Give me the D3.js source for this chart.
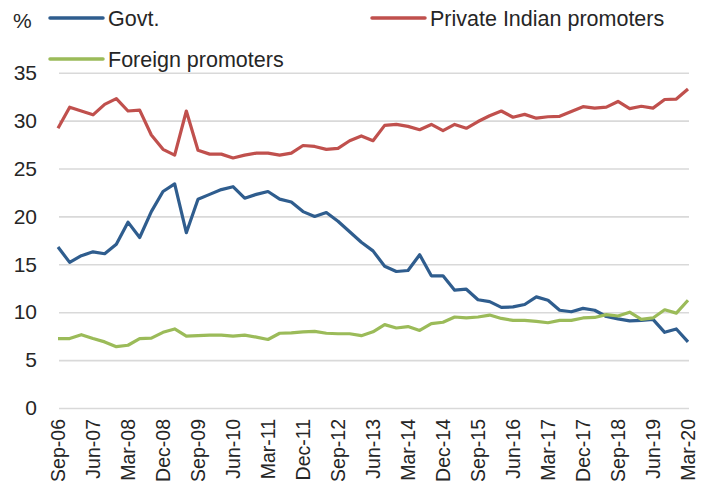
<!DOCTYPE html>
<html>
<head>
<meta charset="utf-8">
<script src="https://cdn.jsdelivr.net/npm/d3@7"></script>
<style>
  body { margin: 0; background: #fff; }
  svg text { font-family: "Liberation Sans", Arial, sans-serif; fill: #262626; }
</style>
</head>
<body>
<script>
var quarters = [
  "Sep-06","Dec-06","Mar-07","Jun-07","Sep-07","Dec-07","Mar-08","Jun-08","Sep-08","Dec-08",
  "Mar-09","Jun-09","Sep-09","Dec-09","Mar-10","Jun-10","Sep-10","Dec-10","Mar-11","Jun-11",
  "Sep-11","Dec-11","Mar-12","Jun-12","Sep-12","Dec-12","Mar-13","Jun-13","Sep-13","Dec-13",
  "Mar-14","Jun-14","Sep-14","Dec-14","Mar-15","Jun-15","Sep-15","Dec-15","Mar-16","Jun-16",
  "Sep-16","Dec-16","Mar-17","Jun-17","Sep-17","Dec-17","Mar-18","Jun-18","Sep-18","Dec-18",
  "Mar-19","Jun-19","Sep-19","Dec-19","Mar-20"];

var tickLabels = ["Sep-06","Jun-07","Mar-08","Dec-08","Sep-09","Jun-10","Mar-11","Dec-11",
  "Sep-12","Jun-13","Mar-14","Dec-14","Sep-15","Jun-16","Mar-17","Dec-17","Sep-18","Jun-19","Mar-20"];

var yTicks = [0, 5, 10, 15, 20, 25, 30, 35];

var govt = [16.8,15.2,15.9,16.3,16.1,17.1,19.4,17.8,20.5,22.6,
  23.4,18.3,21.8,22.3,22.8,23.1,21.9,22.3,22.6,21.8,
  21.5,20.5,20.0,20.4,19.5,18.4,17.3,16.4,14.8,14.25,
  14.35,16.0,13.8,13.8,12.3,12.4,11.3,11.1,10.5,10.55,
  10.8,11.6,11.25,10.2,10.05,10.4,10.2,9.55,9.3,9.1,
  9.15,9.25,7.9,8.25,6.9];

var privateIndian = [29.2,31.4,31.0,30.6,31.7,32.3,31.0,31.1,28.5,27.0,
  26.4,31.0,26.9,26.5,26.5,26.1,26.4,26.6,26.6,26.4,
  26.6,27.4,27.3,27.0,27.1,27.9,28.4,27.9,29.5,29.6,
  29.4,29.05,29.6,28.95,29.6,29.2,29.9,30.5,31.0,30.35,
  30.65,30.25,30.4,30.45,30.95,31.45,31.3,31.4,32.0,31.25,
  31.5,31.3,32.2,32.25,33.3];

var foreign = [7.25,7.25,7.65,7.25,6.9,6.4,6.55,7.25,7.3,7.9,
  8.25,7.5,7.55,7.6,7.6,7.5,7.6,7.4,7.15,7.8,
  7.85,7.95,8.0,7.8,7.75,7.75,7.55,7.95,8.7,8.35,
  8.5,8.1,8.8,8.95,9.5,9.4,9.5,9.7,9.35,9.15,
  9.15,9.05,8.9,9.15,9.15,9.4,9.45,9.75,9.6,10.0,
  9.25,9.4,10.25,9.9,11.25];

var series = [
  { name: "Govt.", values: govt, color: "#2f5d8e", lx: 50, ly: 18 },
  { name: "Private Indian promoters", values: privateIndian, color: "#c0504d", lx: 372, ly: 18 },
  { name: "Foreign promoters", values: foreign, color: "#9bbb59", lx: 50, ly: 59 }
];

var svg = d3.select("body").append("svg")
  .attr("width", 710)
  .attr("height", 496);

var x = d3.scalePoint().domain(quarters).range([58, 688]);
var y = d3.scaleLinear().domain([0, 35]).range([408, 72.7]);

// gridlines + y labels
var yAxis = svg.append("g")
  .attr("transform", "translate(59,0)")
  .call(d3.axisLeft(y).tickValues(yTicks).tickSize(-630).tickPadding(22));
yAxis.select(".domain").remove();
yAxis.selectAll(".tick line").attr("stroke", "#d9d9d9").attr("stroke-width", 1.6);
yAxis.selectAll(".tick text").attr("font-size", 21).attr("fill", "#262626");

// x labels
var xAxis = svg.append("g")
  .attr("transform", "translate(0,408)")
  .call(d3.axisBottom(x).tickValues(tickLabels).tickSize(0).tickPadding(0));
xAxis.select(".domain").remove();
xAxis.selectAll(".tick text")
  .attr("font-size", 19.5)
  .attr("fill", "#262626")
  .attr("text-anchor", "end")
  .attr("dy", "0.35em")
  .attr("transform", "translate(0,11) rotate(-90)")
  .attr("x", 0)
  .attr("y", 0);

var line = d3.line()
  .x(function(d, i) { return x(quarters[i]); })
  .y(function(d) { return y(d); });

svg.selectAll(".series")
  .data(series)
  .enter()
  .append("path")
  .attr("class", "series")
  .attr("d", function(d) { return line(d.values); })
  .attr("fill", "none")
  .attr("stroke", function(d) { return d.color; })
  .attr("stroke-width", 3.2)
  .attr("stroke-linejoin", "round");

// legend
var legend = svg.selectAll(".legend")
  .data(series)
  .enter()
  .append("g")
  .attr("class", "legend");

legend.append("line")
  .attr("x1", function(d) { return d.lx; })
  .attr("x2", function(d) { return d.lx + 53; })
  .attr("y1", function(d) { return d.ly; })
  .attr("y2", function(d) { return d.ly; })
  .attr("stroke", function(d) { return d.color; })
  .attr("stroke-width", 3.5)
  .attr("stroke-linecap", "round");

legend.append("text")
  .attr("x", function(d) { return d.lx + 58; })
  .attr("y", function(d) { return d.ly; })
  .attr("dy", "0.35em")
  .attr("font-size", 21.5)
  .text(function(d) { return d.name; });

svg.append("text")
  .attr("x", 13)
  .attr("y", 20.5)
  .attr("dy", "0.35em")
  .attr("font-size", 21)
  .text("%");
</script>
</body>
</html>
